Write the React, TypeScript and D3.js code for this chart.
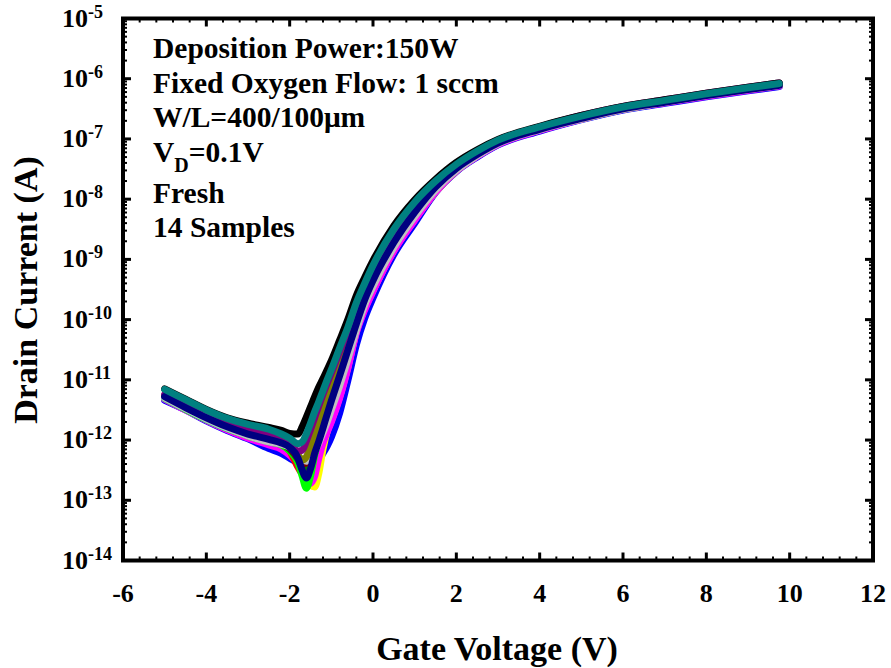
import React from "react";
import * as d3 from "d3";

// Gate voltage grid (V)
const gateVoltage = [-5, -4.5, -4, -3.5, -3, -2.5, -2.2, -2.0, -1.8, -1.7, -1.6, -1.5, -1.4, -1.3, -1.2, -1.1, -1.0, -0.8, -0.6, -0.4, -0.2, 0, 0.5, 1, 1.5, 2, 2.5, 3, 4, 5, 6, 7, 8, 9, 9.75];

// log10 of drain current (A), one array per sample
const sampleBlue = [-11.34, -11.5, -11.68, -11.84, -11.98, -12.14, -12.22, -12.3, -12.38, -12.4, -12.42, -12.42, -12.4, -12.33, -12.22, -12.1, -11.95, -11.55, -11.0, -10.42, -9.98, -9.64, -8.92, -8.4, -7.89, -7.54, -7.3, -7.1, -6.87, -6.68, -6.52, -6.41, -6.3, -6.2, -6.13];
const sampleYellow = [-11.31, -11.49, -11.66, -11.82, -11.95, -12.05, -12.1, -12.2, -12.35, -12.45, -12.6, -12.75, -12.78, -12.55, -12.15, -11.86, -11.68, -11.28, -10.78, -10.2, -9.82, -9.52, -8.85, -8.34, -7.88, -7.53, -7.28, -7.08, -6.85, -6.67, -6.51, -6.39, -6.28, -6.18, -6.11];
const sampleMagenta = [-11.32, -11.5, -11.67, -11.83, -11.97, -12.08, -12.15, -12.25, -12.4, -12.52, -12.65, -12.72, -12.6, -12.3, -12.05, -11.87, -11.7, -11.3, -10.8, -10.22, -9.84, -9.53, -8.86, -8.35, -7.88, -7.53, -7.29, -7.09, -6.86, -6.67, -6.51, -6.4, -6.29, -6.19, -6.12];
const sampleRed = [-11.3, -11.48, -11.64, -11.79, -11.91, -12.01, -12.07, -12.18, -12.45, -12.55, -12.5, -12.3, -12.05, -11.85, -11.65, -11.45, -11.25, -10.85, -10.43, -10.0, -9.62, -9.3, -8.68, -8.18, -7.79, -7.48, -7.25, -7.06, -6.83, -6.65, -6.5, -6.38, -6.27, -6.17, -6.1];
const sampleGreen = [-11.31, -11.49, -11.66, -11.81, -11.93, -12.03, -12.08, -12.18, -12.38, -12.6, -12.8, -12.6, -12.25, -12.0, -11.78, -11.55, -11.33, -10.9, -10.47, -10.04, -9.64, -9.33, -8.7, -8.18, -7.79, -7.48, -7.25, -7.06, -6.83, -6.65, -6.5, -6.38, -6.27, -6.17, -6.1];
const sampleCyan = [-11.3, -11.48, -11.65, -11.8, -11.92, -12.02, -12.06, -12.12, -12.28, -12.45, -12.42, -12.2, -11.98, -11.8, -11.62, -11.45, -11.25, -10.85, -10.43, -10.0, -9.62, -9.31, -8.69, -8.19, -7.79, -7.48, -7.25, -7.06, -6.83, -6.65, -6.5, -6.38, -6.27, -6.17, -6.1];
const sampleDarkGreen = [-11.29, -11.47, -11.63, -11.78, -11.9, -12.0, -12.06, -12.15, -12.32, -12.45, -12.45, -12.28, -12.04, -11.82, -11.6, -11.38, -11.17, -10.78, -10.38, -9.96, -9.6, -9.28, -8.66, -8.17, -7.78, -7.48, -7.25, -7.06, -6.83, -6.64, -6.49, -6.38, -6.27, -6.17, -6.1];
const sampleWine = [-11.28, -11.46, -11.62, -11.76, -11.88, -11.98, -12.05, -12.13, -12.3, -12.4, -12.38, -12.2, -11.98, -11.76, -11.52, -11.3, -11.1, -10.72, -10.33, -9.92, -9.56, -9.25, -8.63, -8.15, -7.77, -7.47, -7.24, -7.05, -6.82, -6.64, -6.49, -6.37, -6.26, -6.16, -6.09];
const sampleGray = [-11.3, -11.48, -11.65, -11.8, -11.93, -12.03, -12.07, -12.12, -12.25, -12.32, -12.35, -12.3, -12.2, -12.05, -11.88, -11.7, -11.5, -11.1, -10.65, -10.18, -9.76, -9.45, -8.8, -8.29, -7.85, -7.52, -7.28, -7.08, -6.85, -6.67, -6.51, -6.39, -6.28, -6.18, -6.11];
const sampleOlive = [-11.26, -11.44, -11.6, -11.74, -11.86, -11.95, -12.02, -12.1, -12.25, -12.33, -12.28, -12.12, -11.92, -11.7, -11.46, -11.24, -11.04, -10.66, -10.28, -9.88, -9.53, -9.22, -8.6, -8.13, -7.76, -7.46, -7.23, -7.04, -6.82, -6.63, -6.48, -6.37, -6.26, -6.16, -6.09];
const samplePurple = [-11.24, -11.42, -11.58, -11.72, -11.83, -11.92, -11.98, -12.06, -12.18, -12.17, -12.02, -11.83, -11.63, -11.43, -11.24, -11.06, -10.89, -10.53, -10.17, -9.77, -9.44, -9.14, -8.54, -8.08, -7.72, -7.43, -7.2, -7.02, -6.8, -6.61, -6.46, -6.35, -6.24, -6.14, -6.07];
const sampleNavy = [-11.28, -11.46, -11.63, -11.78, -11.9, -11.99, -12.05, -12.12, -12.3, -12.5, -12.63, -12.48, -12.22, -12.02, -11.8, -11.57, -11.35, -10.93, -10.5, -10.07, -9.67, -9.35, -8.72, -8.22, -7.8, -7.49, -7.26, -7.07, -6.84, -6.66, -6.5, -6.39, -6.28, -6.18, -6.11];
const sampleBlack = [-11.15, -11.32, -11.49, -11.63, -11.72, -11.79, -11.84, -11.89, -11.9, -11.78, -11.62, -11.45, -11.28, -11.12, -10.98, -10.83, -10.68, -10.34, -9.99, -9.6, -9.3, -9.02, -8.44, -8.01, -7.67, -7.39, -7.18, -7.01, -6.79, -6.61, -6.46, -6.35, -6.24, -6.14, -6.07];
const sampleTeal = [-11.16, -11.33, -11.5, -11.64, -11.74, -11.82, -11.9, -11.97, -12.06, -12.03, -11.9, -11.72, -11.53, -11.36, -11.18, -11.0, -10.83, -10.47, -10.12, -9.72, -9.4, -9.1, -8.5, -8.05, -7.7, -7.42, -7.2, -7.02, -6.8, -6.62, -6.47, -6.36, -6.25, -6.15, -6.08];

// draw order (first drawn at the bottom)
const sampleValues = [sampleBlue, sampleYellow, sampleMagenta, sampleRed, sampleGreen, sampleCyan, sampleDarkGreen, sampleWine, sampleGray, sampleOlive, samplePurple, sampleNavy, sampleBlack, sampleTeal];
const sampleColors = ["#0000ff", "#ffff00", "#ff00ff", "#ff0000", "#00ff00", "#00ffff", "#008000", "#800000", "#c0c0c0", "#808000", "#800080", "#000080", "#000000", "#008080"];

const xTickValues = [-6, -4, -2, 0, 2, 4, 6, 8, 10, 12];
const yDecadeExponents = [-14, -13, -12, -11, -10, -9, -8, -7, -6, -5];

const annotationLines = ["Deposition Power:150W", "Fixed Oxygen Flow: 1 sccm", "W/L=400/100\u03bcm"];
const annotationLower = ["Fresh", "14 Samples"];

const FONT = "'Liberation Serif', 'Times New Roman', Times, serif";

export default function App() {
  const W = 891;
  const H = 668;
  const left = 123, right = 873, top = 18.5, bottom = 560.5;
  const x = d3.scaleLinear().domain([-6, 12]).range([left, right]);
  const y = d3.scaleLog().domain([1e-14, 1e-5]).range([bottom, top]);

  const line = d3
    .line<number>()
    .x((_, i) => x(gateVoltage[i]))
    .y((d) => y(Math.pow(10, d)))
    .curve(d3.curveMonotoneX);

  const xMinor = d3.range(-6, 12.001, 0.4).filter((v) => Math.abs(v / 2 - Math.round(v / 2)) > 1e-6);
  const yMinor: number[] = [];
  for (let e = -14; e < -5; e++) for (let m = 2; m <= 9; m++) yMinor.push(m * Math.pow(10, e));

  const majLen = 8, minLen = 4;

  return (
    <svg width={W} height={H} style={{ position: "absolute", left: 0, top: 0, background: "#fff" }} fontFamily={FONT}>
      <rect x={0} y={0} width={W} height={H} fill="#fff" />
      {/* curves */}
      <g fill="none" strokeWidth={7} strokeLinecap="round" strokeLinejoin="round">
        {sampleValues.map((vals, i) => (
          <path key={i} d={line(vals) || ""} stroke={sampleColors[i]} />
        ))}
      </g>

      {/* ticks */}
      <g stroke="#000">
        {xTickValues.map((v) => (
          <g key={"xt" + v} strokeWidth={3}>
            <line x1={x(v)} x2={x(v)} y1={bottom} y2={bottom - majLen} />
            <line x1={x(v)} x2={x(v)} y1={top} y2={top + majLen} />
          </g>
        ))}
        {xMinor.map((v, i) => (
          <g key={"xm" + i} strokeWidth={2}>
            <line x1={x(v)} x2={x(v)} y1={bottom} y2={bottom - minLen} />
            <line x1={x(v)} x2={x(v)} y1={top} y2={top + minLen} />
          </g>
        ))}
        {yDecadeExponents.map((e) => (
          <g key={"yt" + e} strokeWidth={3}>
            <line x1={left} x2={left + majLen} y1={y(Math.pow(10, e))} y2={y(Math.pow(10, e))} />
            <line x1={right} x2={right - majLen} y1={y(Math.pow(10, e))} y2={y(Math.pow(10, e))} />
          </g>
        ))}
        {yMinor.map((v, i) => (
          <g key={"ym" + i} strokeWidth={2}>
            <line x1={left} x2={left + minLen} y1={y(v)} y2={y(v)} />
            <line x1={right} x2={right - minLen} y1={y(v)} y2={y(v)} />
          </g>
        ))}
      </g>

      {/* frame */}
      <rect x={left} y={top} width={right - left} height={bottom - top} fill="none" stroke="#000" strokeWidth={4} />

      {/* x tick labels */}
      <g fontSize={26} fontWeight="bold" textAnchor="middle">
        {xTickValues.map((v) => (
          <text key={"xl" + v} x={x(v)} y={602}>
            {v}
          </text>
        ))}
      </g>

      {/* y tick labels */}
      <g fontWeight="bold">
        {yDecadeExponents.map((e) => (
          <text key={"yl" + e} x={62} y={y(Math.pow(10, e)) + 8} fontSize={26}>
            10
            <tspan dy={-9} fontSize={18}>
              {e}
            </tspan>
          </text>
        ))}
      </g>

      {/* axis titles */}
      <text x={497} y={660} fontSize={34} fontWeight="bold" textAnchor="middle">
        Gate Voltage (V)
      </text>
      <text transform="translate(37,290) rotate(-90)" fontSize={34} fontWeight="bold" textAnchor="middle">
        Drain Current (A)
      </text>

      {/* annotations */}
      <g fontSize={29.5} fontWeight="bold">
        {annotationLines.map((t, i) => (
          <text key={"an" + i} x={153} y={58 + i * 34.5}>
            {t}
          </text>
        ))}
        <text x={153} y={161.5}>
          V
          <tspan fontSize={20} dy={10}>D</tspan>
          <tspan dy={-10}>=0.1V</tspan>
        </text>
        {annotationLower.map((t, i) => (
          <text key={"al" + i} x={153} y={203 + i * 33.5}>
            {t}
          </text>
        ))}
      </g>
    </svg>
  );
}
